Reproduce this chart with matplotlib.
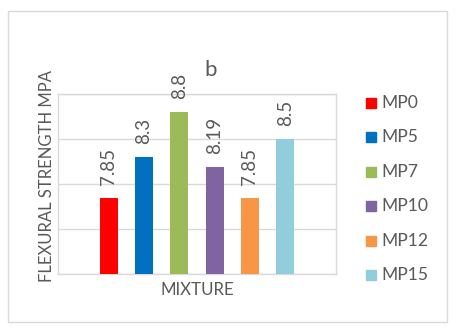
import matplotlib
matplotlib.use("Agg")
import matplotlib.pyplot as plt
from matplotlib.patches import Rectangle

categories = ["MP0", "MP5", "MP7", "MP10", "MP12", "MP15"]
values = [7.85, 8.3, 8.8, 8.19, 7.85, 8.5]
labels = ["7.85", "8.3", "8.8", "8.19", "7.85", "8.5"]
colors = ["#FF0000", "#0070C0", "#9BBB59", "#8064A2", "#F79646", "#92CDDC"]

plt.rcParams['font.family'] = ['Lato', 'DejaVu Sans']
txt = "#595959"
W, H = 458, 332
fig = plt.figure(figsize=(W/100, H/100), dpi=100)

fig.patches.append(Rectangle((8/W, 1-322/H), (447-8)/W, (322-11)/H,
                             transform=fig.transFigure, fill=False,
                             edgecolor="#D9D9D9", linewidth=1))

ax = fig.add_axes([58/W, 1-274/H, 278/W, 180/H])
step = 35.3/278
width = 18/278
for i, (c, v, lab, col) in enumerate(zip(categories, values, labels, colors)):
    x = (i - 2.5) * step
    ax.bar(x, v, width=width, color=col, label=c, zorder=3)
    ax.annotate(lab, (x, v), xytext=(0, 9), textcoords="offset points",
                rotation=90, ha="center", va="bottom", color=txt, fontsize=13.5)

ax.set_xlim(-0.5, 0.5)
ax.set_ylim(7, 9)
ax.set_yticks([7, 7.5, 8, 8.5, 9])
ax.set_yticklabels([])
ax.set_xticks([])
ax.tick_params(length=0)
ax.grid(axis="y", color="#D9D9D9", linewidth=1, zorder=0)
for s in ax.spines.values():
    s.set_color("#D9D9D9")
    s.set_linewidth(1)

ax.set_title("b", fontsize=16, color=txt, pad=13, x=0.55)
ax.set_ylabel("FLEXURAL STRENGTH MPA", fontsize=12, color=txt)
ax.yaxis.set_label_coords(-0.01, (274-176)/180)
ax.set_xlabel("MIXTURE", fontsize=12.2, color=txt, labelpad=6)

# legend drawn in figure space
for i, (c, col) in enumerate(zip(categories, colors)):
    yc = 103 + i * 34.4
    fig.patches.append(Rectangle((366/W, 1-(yc+5)/H), 10/W, 10/H,
                                 transform=fig.transFigure, color=col))
    fig.text(381/W, 1-yc/H, c, fontsize=12.6, color=txt, va="center", ha="left")

fig.savefig("out.png", dpi=100)
